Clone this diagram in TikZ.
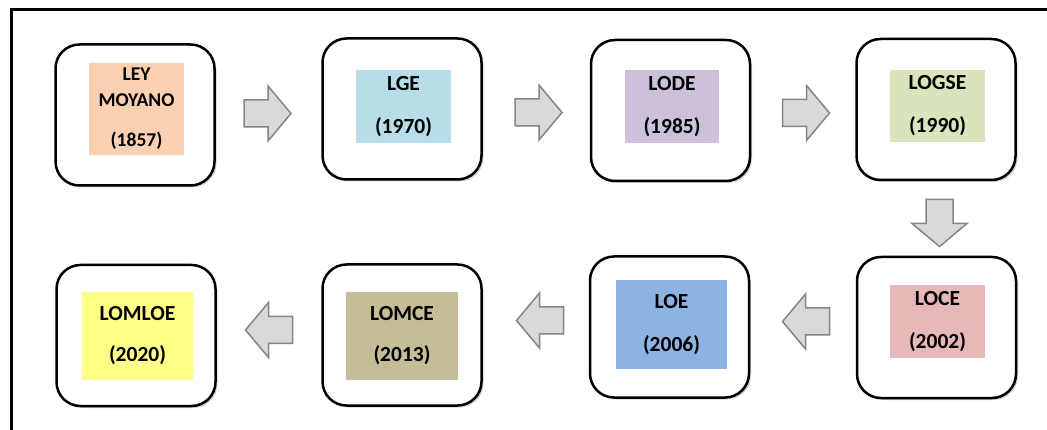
\documentclass[tikz,border=0pt]{standalone}
\usepackage{fontspec}
\setmainfont{Carlito}
\usetikzlibrary{shadows}
\definecolor{cPeach}{HTML}{FAD0B2}
\definecolor{cAqua}{HTML}{B7DDE8}
\definecolor{cLilac}{HTML}{CCC0DA}
\definecolor{cOlive}{HTML}{D7E4BC}
\definecolor{cRose}{HTML}{E6B9B8}
\definecolor{cBlue}{HTML}{8DB3E2}
\definecolor{cTan}{HTML}{C4BD97}
\definecolor{cYellow}{HTML}{FFFF88}
\definecolor{arrowFill}{HTML}{D9D9D9}
\definecolor{arrowLine}{HTML}{858585}
\tikzset{
  lawbox/.style={draw=black, line width=2.5pt, rounded corners=24pt, fill=white,
    minimum width=159pt, minimum height=141pt, inner sep=0pt,
    drop shadow={shadow xshift=2pt, shadow yshift=-2pt, opacity=0.35}},
  lawtag/.style={inner sep=0pt, align=center, font=\bfseries\fontsize{21.5}{23}\selectfont},
  blockarr/.pic={
    \draw[draw=arrowLine, fill=arrowFill, line width=1.5pt, line join=miter]
      (-23.5,-13.5) -- (0.5,-13.5) -- (0.5,-27.5) -- (23.5,0) -- (0.5,27.5)
      -- (0.5,13.5) -- (-23.5,13.5) -- cycle;
  }
}
\begin{document}
\begin{tikzpicture}[x=1pt,y=-1pt]
\useasboundingbox (0,0) rectangle (1047,430);
\clip (0,0) rectangle (1047,430);
\fill[white] (0,0) rectangle (1047,430);
\draw[line width=3pt] (11,440) -- (11,10) -- (1060,10);

% outer boxes
\node[lawbox] (b1) at (135,115) {};
\node[lawbox] (b2) at (402,109) {};
\node[lawbox] (b3) at (670.5,110.5) {};
\node[lawbox] (b4) at (936,109.5) {};
\node[lawbox] (b5) at (936.5,327.5) {};
\node[lawbox] (b6) at (669.5,327) {};
\node[lawbox] (b7) at (402,335) {};
\node[lawbox] (b8) at (136,335.5) {};

% coloured labels
\node[lawtag, fill=cPeach, minimum width=95pt, minimum height=92pt,
      font=\bfseries\fontsize{19.5}{21}\selectfont] (t1) at (136.5,109)
      {LEY\\[5pt]MOYANO\\[19pt](1857)};
\node[lawtag, fill=cAqua, minimum width=95pt, minimum height=73pt] (t2) at (403.5,106.5)
      {LGE\\[20pt](1970)};
\node[lawtag, fill=cLilac, minimum width=94pt, minimum height=73pt] (t3) at (672,106.5)
      {LODE\\[20pt](1985)};
\node[lawtag, fill=cOlive, minimum width=95pt, minimum height=72pt] (t4) at (937.5,106)
      {LOGSE\\[20pt](1990)};
\node[lawtag, fill=cRose, minimum width=95pt, minimum height=73pt] (t5) at (937.5,321.5)
      {LOCE\\[20pt](2002)};
\node[lawtag, fill=cBlue, minimum width=111pt, minimum height=89pt] (t6) at (671.5,324.5)
      {LOE\\[20pt](2006)};
\node[lawtag, fill=cTan, minimum width=112pt, minimum height=88pt] (t7) at (402,336)
      {LOMCE\\[18pt](2013)};
\node[lawtag, fill=cYellow, minimum width=111pt, minimum height=88pt] (t8) at (137.5,336)
      {LOMLOE\\[18pt](2020)};

% block arrows
\pic (a1) at (267.5,113.5) {blockarr};
\pic (a2) at (538.5,112.5) {blockarr};
\pic (a3) at (806,113) {blockarr};
\pic[rotate=-90] (a4) at (939.5,223) {blockarr};
\pic[rotate=180] (a5) at (806,321.5) {blockarr};
\pic[rotate=180] (a6) at (540,320.5) {blockarr};
\pic[rotate=180] (a7) at (269,330) {blockarr};
\end{tikzpicture}
\end{document}
